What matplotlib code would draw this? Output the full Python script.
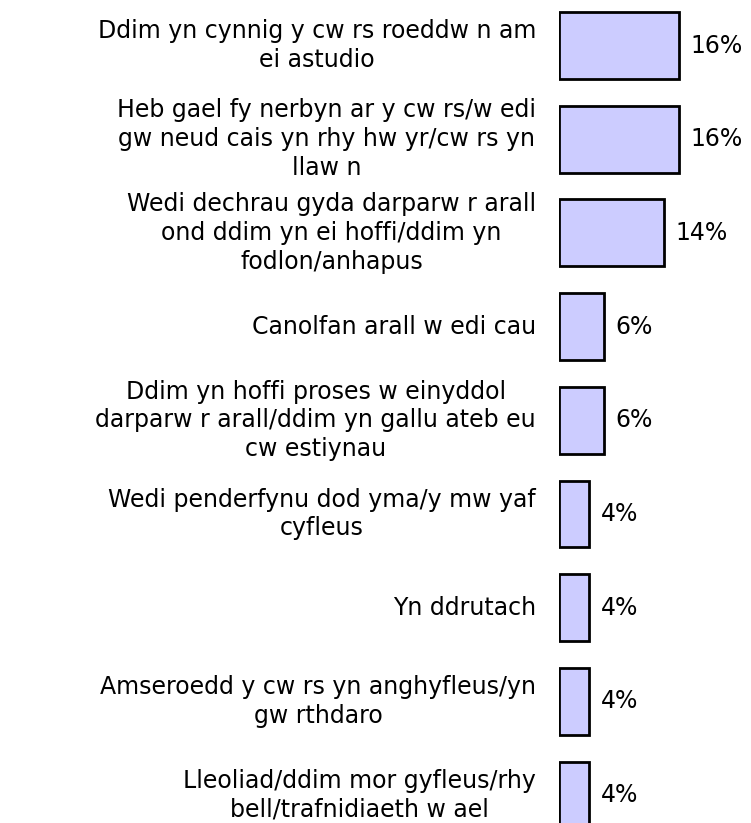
import matplotlib
matplotlib.use("Agg")
import matplotlib.pyplot as plt

# reference text is very wide, DejaVu gets closest to its footprint
plt.rcParams['font.family'] = ['DejaVu Sans']

reasons = [
    "Ddim yn cynnig y cw rs roeddw n am\nei astudio",
    "Heb gael fy nerbyn ar y cw rs/w edi\ngw neud cais yn rhy hw yr/cw rs yn\nllaw n",
    "Wedi dechrau gyda darparw r arall\nond ddim yn ei hoffi/ddim yn\nfodlon/anhapus",
    "Canolfan arall w edi cau",
    "Ddim yn hoffi proses w einyddol\ndarparw r arall/ddim yn gallu ateb eu\ncw estiynau",
    "Wedi penderfynu dod yma/y mw yaf\ncyfleus",
    "Yn ddrutach",
    "Amseroedd y cw rs yn anghyfleus/yn\ngw rthdaro",
    "Lleoliad/ddim mor gyfleus/rhy\nbell/trafnidiaeth w ael",
]
percents = [16, 16, 14, 6, 6, 4, 4, 4, 4]

fig = plt.figure(figsize=(7.51, 8.23), dpi=100)
ax = fig.add_axes([0.7443, 0.0, 0.2557, 1.0])

pos = list(range(len(reasons)))
ax.barh(pos, percents, height=0.715, color='#ccccff', edgecolor='black', linewidth=2.0)

ax.set_xlim(0, 25.6)
ax.set_ylim(8.298, -0.486)
ax.axis('off')

for i, (lab, v) in enumerate(zip(reasons, percents)):
    ax.annotate(lab, xy=(0, i), xytext=(-16.5, 0), textcoords='offset points',
                ha='right', va='center', multialignment='center',
                fontsize=17, linespacing=1.25, annotation_clip=False)
    ax.annotate(f"{v}%", xy=(v, i), xytext=(8.3, 0), textcoords='offset points',
                ha='left', va='center', fontsize=17)

fig.savefig("out.png", dpi=100)
